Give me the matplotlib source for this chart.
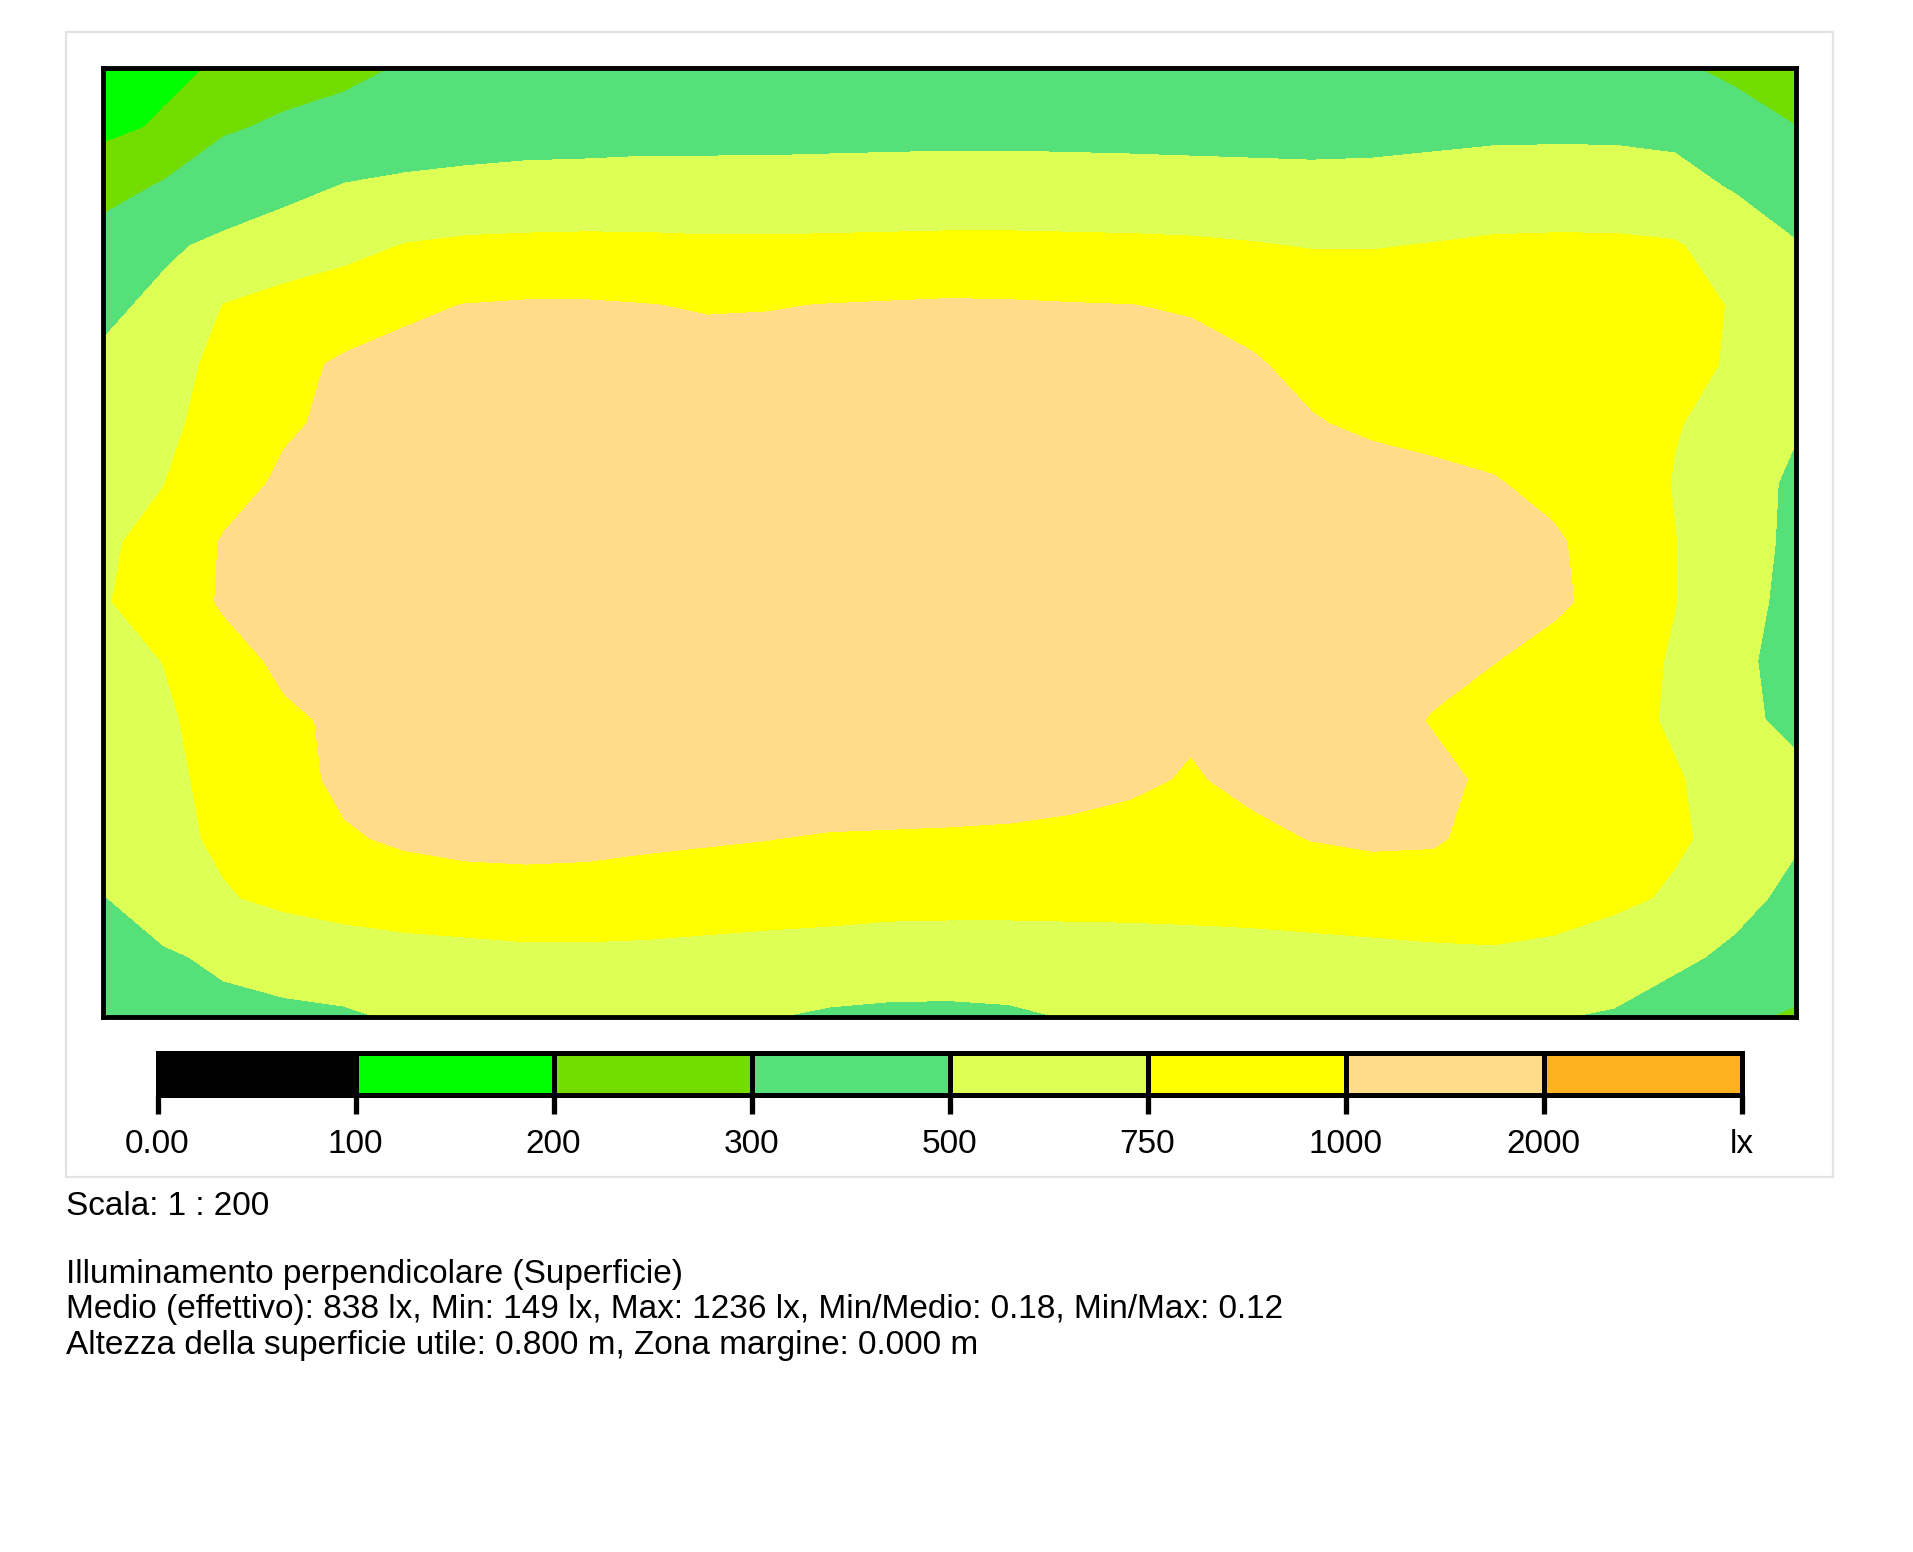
import numpy as np
import matplotlib
matplotlib.use("Agg")
import matplotlib.pyplot as plt
from matplotlib.colors import ListedColormap, BoundaryNorm
from matplotlib.patches import Rectangle

plt.rcParams['font.family'] = ['Liberation Sans', 'DejaVu Sans']

# ---- data -------------------------------------------------------------
room_width = 17.9   # m
room_depth = 10.0   # m

levels = [0, 100, 200, 300, 500, 750, 1000, 2000, 5000]
level_labels = ["0.00", "100", "200", "300", "500", "750", "1000", "2000", "lx"]
level_colors = ["#000000", "#00FF00", "#73DC00", "#55E07A", "#DDFF55",
                "#FFFF00", "#FFDC8A", "#FFB220"]

# illuminance grid (lx), first row = top edge of the plan, 29 points per row
row00 = [149, 180, 210, 245, 270, 310, 340, 365, 385, 400, 410, 415, 420, 425, 428, 428, 425, 420, 415, 410, 405, 400, 395, 385, 375, 355, 325, 262, 240]
row01 = [178, 210, 285, 320, 345, 370, 390, 410, 415, 425, 430, 432, 435, 438, 440, 440, 438, 435, 430, 425, 420, 425, 440, 455, 455, 455, 440, 380, 302]
row02 = [260, 310, 380, 440, 510, 540, 560, 570, 575, 580, 575, 575, 580, 585, 590, 590, 585, 580, 575, 570, 565, 570, 585, 600, 610, 605, 580, 480, 420]
row03 = [345, 470, 540, 610, 680, 760, 790, 800, 805, 800, 790, 790, 795, 800, 805, 805, 800, 795, 785, 765, 740, 740, 760, 785, 790, 790, 770, 650, 510]
row04 = [460, 540, 755, 830, 880, 965, 1005, 1020, 1020, 1005, 985, 990, 1005, 1015, 1025, 1020, 1010, 1002, 985, 950, 910, 890, 880, 880, 875, 860, 820, 735, 610]
row05 = [530, 690, 790, 940, 1030, 1060, 1080, 1090, 1090, 1080, 1075, 1080, 1090, 1100, 1105, 1100, 1090, 1075, 1055, 1015, 960, 920, 905, 900, 895, 880, 830, 720, 640]
row06 = [610, 715, 810, 970, 1050, 1090, 1110, 1120, 1125, 1120, 1115, 1120, 1130, 1140, 1145, 1140, 1130, 1115, 1095, 1060, 1010, 975, 950, 940, 930, 900, 760, 690, 520]
row07 = [660, 745, 900, 1040, 1090, 1120, 1140, 1150, 1155, 1150, 1145, 1150, 1160, 1170, 1175, 1170, 1160, 1145, 1125, 1100, 1075, 1060, 1040, 1010, 960, 880, 740, 600, 460]
row08 = [720, 810, 1020, 1080, 1110, 1135, 1155, 1165, 1170, 1165, 1160, 1165, 1175, 1185, 1190, 1185, 1175, 1165, 1150, 1130, 1115, 1100, 1085, 1060, 1020, 930, 755, 620, 440]
row09 = [735, 830, 1030, 1085, 1115, 1140, 1160, 1170, 1175, 1170, 1165, 1170, 1180, 1205, 1236, 1205, 1185, 1175, 1160, 1145, 1130, 1115, 1100, 1075, 1030, 940, 755, 600, 420]
row10 = [700, 752, 900, 1050, 1090, 1120, 1140, 1150, 1155, 1150, 1145, 1150, 1160, 1170, 1180, 1175, 1165, 1150, 1135, 1120, 1100, 1080, 1050, 1005, 940, 840, 730, 560, 400]
row11 = [660, 720, 830, 960, 1040, 1080, 1100, 1110, 1115, 1110, 1105, 1105, 1110, 1115, 1120, 1115, 1100, 1070, 1015, 1040, 1060, 1060, 990, 920, 890, 830, 720, 540, 460]
row12 = [620, 700, 810, 950, 1030, 1060, 1075, 1080, 1080, 1075, 1070, 1070, 1075, 1080, 1080, 1070, 1050, 1020, 990, 1025, 1040, 1050, 1040, 970, 900, 850, 770, 650, 540]
row13 = [560, 680, 790, 880, 985, 1020, 1030, 1030, 1025, 1015, 1008, 1002, 990, 985, 980, 975, 965, 960, 965, 975, 1003, 1015, 1010, 970, 900, 850, 780, 680, 520]
row14 = [490, 620, 730, 800, 870, 920, 950, 960, 960, 955, 950, 930, 905, 872, 862, 862, 869, 875, 893, 920, 929, 944, 950, 940, 900, 800, 720, 560, 450]
row15 = [420, 470, 540, 585, 595, 627, 647, 676, 676, 662, 627, 597, 580, 560, 560, 560, 565, 570, 575, 580, 620, 650, 680, 700, 660, 620, 540, 460, 390]
row16 = [380, 410, 440, 460, 480, 520, 540, 550, 555, 550, 530, 505, 485, 480, 478, 485, 505, 515, 520, 525, 530, 530, 530, 525, 510, 480, 400, 330, 280]

title_lines = [
    "Scala: 1 : 200",
    "Illuminamento perpendicolare (Superficie)",
    "Medio (effettivo): 838 lx, Min: 149 lx, Max: 1236 lx, Min/Medio: 0.18, Min/Max: 0.12",
    "Altezza della superficie utile: 0.800 m, Zona margine: 0.000 m",
]

# ---- figure -------------------------------------------------------------
W, H = 1913, 1552
fig = plt.figure(figsize=(W / 100, H / 100), dpi=100)

def fx(px):
    return px / W

def fy(py):
    return 1 - py / H

# light grey frame
fig.patches.append(Rectangle((fx(66), fy(1177)), fx(1833) - fx(66), fy(32) - fy(1177),
                             transform=fig.transFigure, fill=False,
                             edgecolor="#E3E3E3", linewidth=1.6, zorder=0))

Z = np.array([row00, row01, row02, row03, row04, row05, row06, row07, row08,
              row09, row10, row11, row12, row13, row14, row15, row16], dtype=float)
ny, nx = Z.shape
xs = np.linspace(0, room_width, nx)
ys = np.linspace(room_depth, 0, ny)

cmap = ListedColormap(level_colors)
norm = BoundaryNorm(levels, cmap.N)

ax = fig.add_axes([fx(102.8), fy(1016.5), fx(1795.5) - fx(102.8), fy(68.2) - fy(1016.5)])
cs = ax.contourf(xs, ys, Z, levels=levels, cmap=cmap, norm=norm)
ax.set_xlim(0, room_width)
ax.set_ylim(0, room_depth)
ax.set_xticks([])
ax.set_yticks([])
for sp in ax.spines.values():
    sp.set_linewidth(3.5)
    sp.set_color("black")
    sp.set_zorder(5)

# colour scale
cax = fig.add_axes([fx(157.5), fy(1094.5), fx(1741.5) - fx(157.5), fy(1052.5) - fy(1094.5)])
cb = fig.colorbar(cs, cax=cax, orientation="horizontal", spacing="uniform",
                  drawedges=True)
cb.set_ticks(levels)
cb.set_ticklabels(level_labels)
cb.outline.set_linewidth(3.6)
cb.outline.set_edgecolor("black")
cb.dividers.set_linewidth(3.6)
cb.dividers.set_color("black")
cax.tick_params(axis="x", direction="out", length=14, width=3.8, pad=11,
                labelsize=24, colors="black")
cax.minorticks_off()

# texts below
baselines = [1215, 1283, 1318, 1354]
for txt, b in zip(title_lines, baselines):
    fig.text(fx(66), fy(b), txt, fontsize=24, ha="left", va="baseline", color="black")

fig.savefig("out.png", dpi=100, facecolor="white")
